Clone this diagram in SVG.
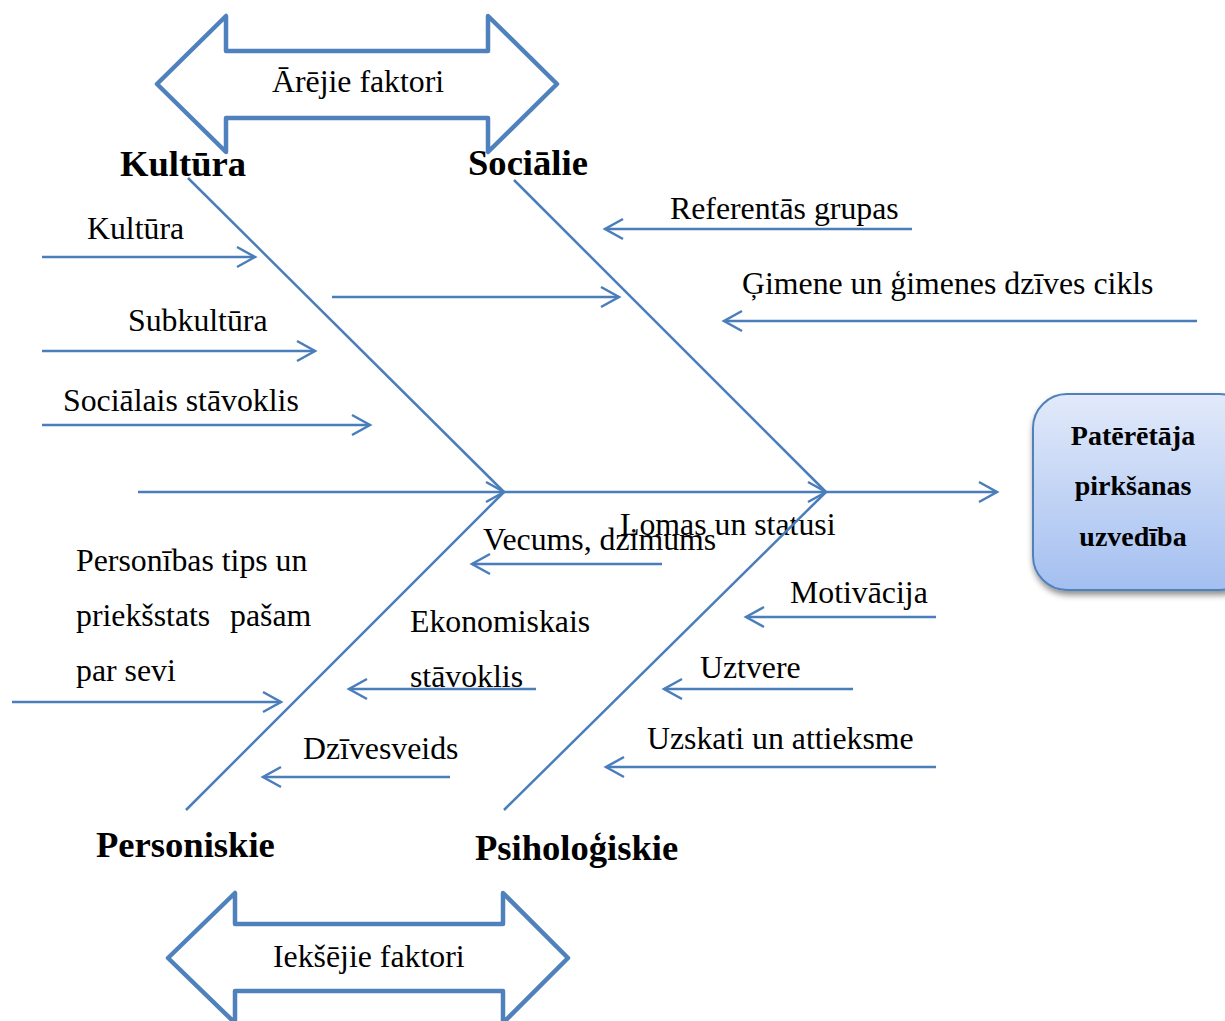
<svg xmlns="http://www.w3.org/2000/svg" width="1225" height="1021" viewBox="0 0 1225 1021">
  <style>
    .t { font-family: "Liberation Serif", "Times New Roman", serif; font-size: 31.8px; fill: #000; }
    .b { font-family: "Liberation Serif", "Times New Roman", serif; font-size: 36.6px; font-weight: bold; fill: #000; }
    .bx { font-family: "Liberation Serif", "Times New Roman", serif; font-size: 28px; font-weight: bold; fill: #000; }
    .ln { stroke: #4A7EBB; stroke-width: 2.5; fill: none; }
    .arw { marker-end: url(#head); }
    .big { fill: #fff; stroke: #4F81BD; stroke-width: 4.5; stroke-linejoin: round; }
  </style>
  <defs>
    <marker id="head" markerUnits="userSpaceOnUse" markerWidth="24" markerHeight="24" viewBox="-22 -12 24 24" refX="0" refY="0" orient="auto" overflow="visible">
      <path d="M-18,-10 L0,0 L-18,10" fill="none" stroke="#4A7EBB" stroke-width="2.5"/>
    </marker>
    <linearGradient id="boxFill" x1="0" y1="0" x2="0" y2="1">
      <stop offset="0" stop-color="#e2eafa"/>
      <stop offset="1" stop-color="#a3bff0"/>
    </linearGradient>
    <filter id="shadow" x="-20%" y="-20%" width="140%" height="150%">
      <feDropShadow dx="1" dy="4" stdDeviation="3" flood-color="#000" flood-opacity="0.45"/>
    </filter>
  </defs>
  <rect width="1225" height="1021" fill="#fff"/>

  <!-- external / internal factor double arrows -->
  <g id="external-factors">
    <polygon class="big" points="157,84 226,16 226,51 488,51 488,16 557,84 488,152 488,118 226,118 226,152"/>
    <text class="t" x="272" y="92">Ārējie faktori</text>
  </g>
  <g id="internal-factors">
    <polygon class="big" points="168,958 235,893 235,924 503,924 503,893 568,958 503,1023 503,991 235,991 235,1023"/>
    <text class="t" x="273" y="967">Iekšējie faktori</text>
  </g>

  <!-- result box -->
  <g id="result">
    <rect x="1033" y="394" width="220" height="196" rx="34" ry="34" fill="url(#boxFill)" stroke="#4F81BD" stroke-width="2" filter="url(#shadow)"/>
    <text class="bx" x="1133" y="445" text-anchor="middle">Patērētāja</text>
    <text class="bx" x="1133" y="495" text-anchor="middle">pirkšanas</text>
    <text class="bx" x="1133" y="546" text-anchor="middle">uzvedība</text>
  </g>

  <!-- category headings -->
  <g id="cat-kultura"><text class="b" x="120" y="176">Kultūra</text></g>
  <g id="cat-sociale"><text class="b" x="468" y="175">Sociālie</text></g>
  <g id="cat-personiskie"><text class="b" x="96" y="857">Personiskie</text></g>
  <g id="cat-psihologiskie"><text class="b" x="475" y="860">Psiholoģiskie</text></g>

  <!-- cause labels -->
  <g id="labels">
    <text class="t" x="87" y="239">Kultūra</text>
    <text class="t" x="128" y="331">Subkultūra</text>
    <text class="t" x="63" y="411">Sociālais stāvoklis</text>
    <text class="t" x="670" y="219">Referentās grupas</text>
    <text class="t" x="742" y="294">Ģimene un ģimenes dzīves cikls</text>
    <text class="t" x="483" y="550">Vecums, dzimums</text>
    <text class="t" x="620" y="535">Lomas un statusi</text>
    <text class="t" x="76" y="571">Personības tips un</text>
    <text class="t" y="626"><tspan x="76">priekšstats</tspan><tspan x="230">pašam</tspan></text>
    <text class="t" x="76" y="681">par sevi</text>
    <text class="t" x="410" y="632">Ekonomiskais</text>
    <text class="t" x="410" y="687">stāvoklis</text>
    <text class="t" x="303" y="759">Dzīvesveids</text>
    <text class="t" x="790" y="603">Motivācija</text>
    <text class="t" x="700" y="678">Uztvere</text>
    <text class="t" x="647" y="749">Uzskati un attieksme</text>
  </g>

  <!-- spine, bones and cause arrows -->
  <g id="connectors">
    <line class="ln arw" x1="138" y1="492" x2="504" y2="492"/>
    <line class="ln arw" x1="504" y1="492" x2="826" y2="492"/>
    <line class="ln arw" x1="826" y1="492" x2="997" y2="492"/>

    <line class="ln" x1="188" y1="178" x2="504" y2="492"/>
    <line class="ln" x1="514" y1="180" x2="826" y2="492"/>
    <line class="ln" x1="186" y1="810" x2="504" y2="492"/>
    <line class="ln" x1="504" y1="810" x2="826" y2="492"/>

    <line class="ln arw" x1="42" y1="257" x2="255" y2="257"/>
    <line class="ln arw" x1="42" y1="351" x2="315" y2="351"/>
    <line class="ln arw" x1="42" y1="425" x2="370" y2="425"/>
    <line class="ln arw" x1="332" y1="297" x2="619" y2="297"/>
    <line class="ln arw" x1="912" y1="229" x2="605" y2="229"/>
    <line class="ln arw" x1="1197" y1="321" x2="724" y2="321"/>

    <line class="ln arw" x1="662" y1="564" x2="472" y2="564"/>
    <line class="ln arw" x1="536" y1="689" x2="349" y2="689"/>
    <line class="ln arw" x1="450" y1="777" x2="263" y2="777"/>
    <line class="ln arw" x1="12" y1="702" x2="281" y2="702"/>
    <line class="ln arw" x1="936" y1="617" x2="746" y2="617"/>
    <line class="ln arw" x1="853" y1="689" x2="664" y2="689"/>
    <line class="ln arw" x1="936" y1="767" x2="606" y2="767"/>
  </g>
</svg>
